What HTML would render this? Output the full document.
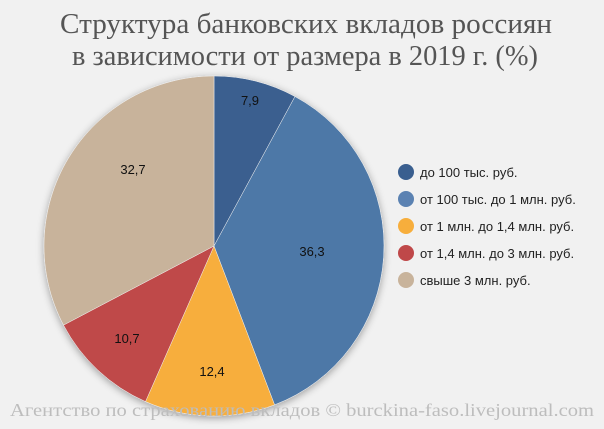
<!DOCTYPE html>
<html><head><meta charset="utf-8"><style>
html,body{margin:0;padding:0;background:#f1f1f1;}
svg{display:block;}
</style></head><body>
<svg width="604" height="429" viewBox="0 0 604 429" xmlns="http://www.w3.org/2000/svg">
<defs><filter id="sh" x="-20%" y="-20%" width="140%" height="140%"><feGaussianBlur in="SourceAlpha" stdDeviation="4"/><feOffset dy="2"/><feComponentTransfer><feFuncA type="linear" slope="0.35"/></feComponentTransfer><feMerge><feMergeNode/><feMergeNode in="SourceGraphic"/></feMerge></filter></defs>
<rect width="604" height="429" fill="#f1f1f1"/>
<g font-family="'Liberation Serif',serif" font-size="29" fill="#555">
<text x="60" y="33" textLength="492" lengthAdjust="spacingAndGlyphs">Структура банковских вкладов россиян</text>
<text x="72" y="65" textLength="466" lengthAdjust="spacingAndGlyphs">в зависимости от размера в 2019 г. (%)</text>
</g>
<g filter="url(#sh)" stroke="#f1f1f1" stroke-width="0.5">
<path d="M214,246 L214,76 A170,170 0 0 1 294.97,96.52 Z" fill="#3a5f8f"/>
<path d="M214,246 L294.97,96.52 A170,170 0 0 1 274.59,404.83 Z" fill="#4e78a7"/>
<path d="M214,246 L274.59,404.83 A170,170 0 0 1 145.51,401.58 Z" fill="#f7ae3c"/>
<path d="M214,246 L145.51,401.58 A170,170 0 0 1 63.52,325.09 Z" fill="#bf4849"/>
<path d="M214,246 L63.52,325.09 A170,170 0 0 1 214,76 Z" fill="#c8b39b"/>
</g>
<g font-family="'Liberation Sans',sans-serif" font-size="13" fill="#111" text-anchor="middle">
<text x="250" y="105">7,9</text>
<text x="312" y="256">36,3</text>
<text x="212" y="376">12,4</text>
<text x="127" y="343">10,7</text>
<text x="133" y="174">32,7</text>
</g>
<circle cx="406" cy="172" r="8" fill="#3a5f8f"/>
<circle cx="406" cy="199" r="8" fill="#5b82b2"/>
<circle cx="406" cy="226" r="8" fill="#f7ae3c"/>
<circle cx="406" cy="253" r="8" fill="#bf4849"/>
<circle cx="406" cy="280" r="8" fill="#c8b39b"/>
<g font-family="'Liberation Sans',sans-serif" font-size="13" fill="#222">
<text x="420" y="177">до 100 тыс. руб.</text>
<text x="420" y="204">от 100 тыс. до 1 млн. руб.</text>
<text x="420" y="231">от 1 млн. до 1,4 млн. руб.</text>
<text x="420" y="258">от 1,4 млн. до 3 млн. руб.</text>
<text x="420" y="285">свыше 3 млн. руб.</text>
</g>
<text x="10" y="416" font-family="'Liberation Serif',serif" font-size="18" fill="#bdbdbd" textLength="584" lengthAdjust="spacingAndGlyphs">Агентство по страхованию вкладов © burckina-faso.livejournal.com</text>
</svg>
</body></html>
